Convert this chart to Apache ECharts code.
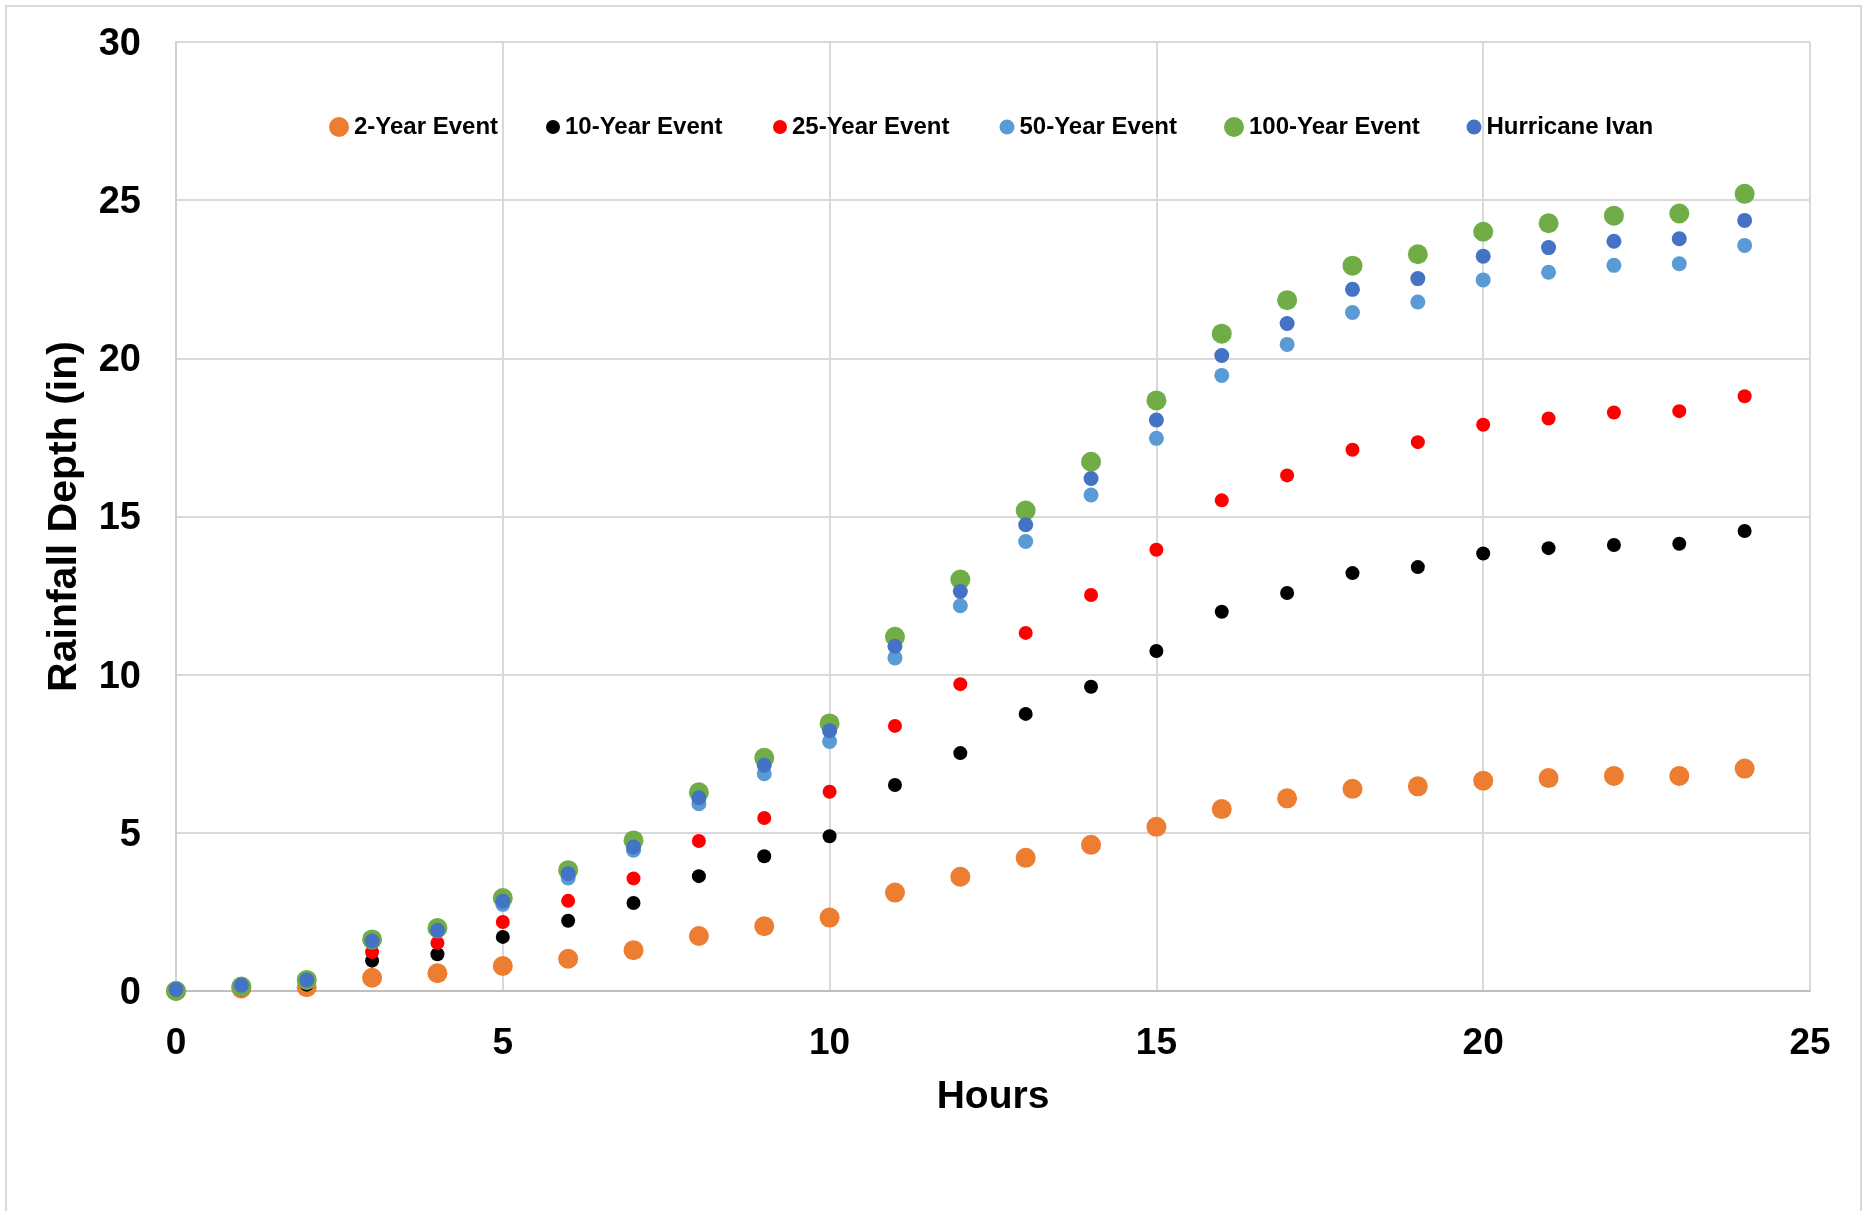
<!DOCTYPE html>
<html>
<head>
<meta charset="utf-8">
<script src="https://cdn.jsdelivr.net/npm/echarts@6/dist/echarts.min.js"></script>
<style>
html,body{margin:0;padding:0;background:#fff;}
#chart{width:1864px;height:1211px;}
</style>
</head>
<body>
<div id="chart"></div>
<script>
const hours = [0,1,2,3,4,5,6,7,8,9,10,11,12,13,14,15,16,17,18,19,20,21,22,23,24];
const xTicks = [0,5,10,15,20,25];
const yTicks = [0,5,10,15,20,25,30];

const seriesNames = ['2-Year Event','10-Year Event','25-Year Event','50-Year Event','100-Year Event','Hurricane Ivan'];

const twoYear     = [0, 0.08, 0.12, 0.42, 0.56, 0.79, 1.02, 1.29, 1.74, 2.05, 2.32, 3.11, 3.61, 4.21, 4.62, 5.19, 5.75, 6.09, 6.39, 6.47, 6.65, 6.73, 6.80, 6.80, 7.03];
const tenYear     = [0, 0.05, 0.20, 0.96, 1.16, 1.71, 2.22, 2.78, 3.63, 4.26, 4.89, 6.51, 7.52, 8.76, 9.62, 10.75, 11.99, 12.58, 13.21, 13.40, 13.83, 14.00, 14.10, 14.14, 14.54];
const twentyFiveYear = [0, 0.07, 0.25, 1.23, 1.52, 2.18, 2.85, 3.56, 4.74, 5.47, 6.30, 8.38, 9.70, 11.32, 12.52, 13.95, 15.51, 16.30, 17.11, 17.35, 17.90, 18.10, 18.29, 18.33, 18.80];
const fiftyYear   = [0, 0.10, 0.30, 1.56, 1.90, 2.74, 3.57, 4.45, 5.92, 6.87, 7.89, 10.53, 12.18, 14.21, 15.68, 17.47, 19.46, 20.44, 21.45, 21.78, 22.48, 22.72, 22.94, 22.99, 23.57];
const hundredYear = [0, 0.14, 0.35, 1.63, 1.99, 2.94, 3.82, 4.76, 6.28, 7.37, 8.46, 11.20, 13.01, 15.19, 16.73, 18.67, 20.78, 21.84, 22.93, 23.29, 24.00, 24.27, 24.51, 24.58, 25.20];
const hurricaneIvan = [0.05, 0.18, 0.35, 1.58, 1.92, 2.84, 3.71, 4.55, 6.11, 7.14, 8.23, 10.90, 12.63, 14.74, 16.20, 18.05, 20.09, 21.10, 22.18, 22.52, 23.23, 23.50, 23.70, 23.78, 24.36];

const allValues = [twoYear, tenYear, twentyFiveYear, fiftyYear, hundredYear, hurricaneIvan];
const colors = ['#ED7D31', '#000000', '#FF0000', '#5B9BD5', '#70AD47', '#4472C4'];
const sizes = [20, 14, 14, 15, 20, 15];
const legendCenters = [339, 553, 780, 1007, 1234, 1474];

const FONT = '"Liberation Sans", Arial, sans-serif';

const chart = echarts.init(document.getElementById('chart'), null, {renderer: 'canvas'});

const series = seriesNames.map((name, i) => ({
  name: name,
  type: 'scatter',
  data: hours.map((h, j) => [h, allValues[i][j]]),
  symbol: 'circle',
  symbolSize: sizes[i],
  itemStyle: {color: colors[i], opacity: 1},
  clip: false,
  z: 2 + i
}));

const legends = seriesNames.map((name, i) => ({
  data: [name],
  left: legendCenters[i] - sizes[i] / 2,
  top: 115,
  orient: 'horizontal',
  padding: 0,
  itemWidth: sizes[i],
  itemHeight: sizes[i],
  itemGap: 0,
  icon: 'circle',
  selectedMode: false,
  textStyle: {fontFamily: FONT, fontWeight: 'bold', fontSize: 24, color: '#000'}
}));

chart.setOption({
  animation: false,
  backgroundColor: '#ffffff',
  graphic: [{
    type: 'rect',
    shape: {x: 6, y: 6, width: 1855, height: 1240},
    style: {fill: 'none', stroke: '#d9d9d9', lineWidth: 2},
    silent: true,
    z: -10
  }],
  legend: legends,
  grid: {left: 176, right: 54, top: 42, bottom: 220, containLabel: false},
  xAxis: {
    type: 'value',
    min: xTicks[0],
    max: xTicks[xTicks.length - 1],
    interval: 5,
    name: 'Hours',
    nameLocation: 'middle',
    nameGap: 87,
    nameTextStyle: {fontFamily: FONT, fontWeight: 'bold', fontSize: 39, color: '#000'},
    axisLine: {show: true, onZero: false, lineStyle: {color: '#bfbfbf', width: 2}},
    axisTick: {show: false},
    axisLabel: {margin: 34, fontFamily: FONT, fontWeight: 'bold', fontSize: 37, color: '#000'},
    splitLine: {show: true, lineStyle: {color: '#d9d9d9', width: 2}}
  },
  yAxis: {
    type: 'value',
    min: yTicks[0],
    max: yTicks[yTicks.length - 1],
    interval: 5,
    name: 'Rainfall Depth (in)',
    nameLocation: 'middle',
    nameGap: 91,
    nameTextStyle: {fontFamily: FONT, fontWeight: 'bold', fontSize: 41, color: '#000'},
    axisLine: {show: true, onZero: false, lineStyle: {color: '#d0d0d0', width: 2}},
    axisTick: {show: false},
    axisLabel: {
      margin: 35,
      formatter: '{v|{value}}',
      rich: {v: {fontFamily: FONT, fontWeight: 'bold', fontSize: 38, color: '#000', padding: [5, 0, 0, 0]}},
      fontFamily: FONT, fontWeight: 'bold', fontSize: 38, color: '#000'
    },
    splitLine: {show: true, lineStyle: {color: '#d9d9d9', width: 2}}
  },
  series: series
});
</script>
</body>
</html>
